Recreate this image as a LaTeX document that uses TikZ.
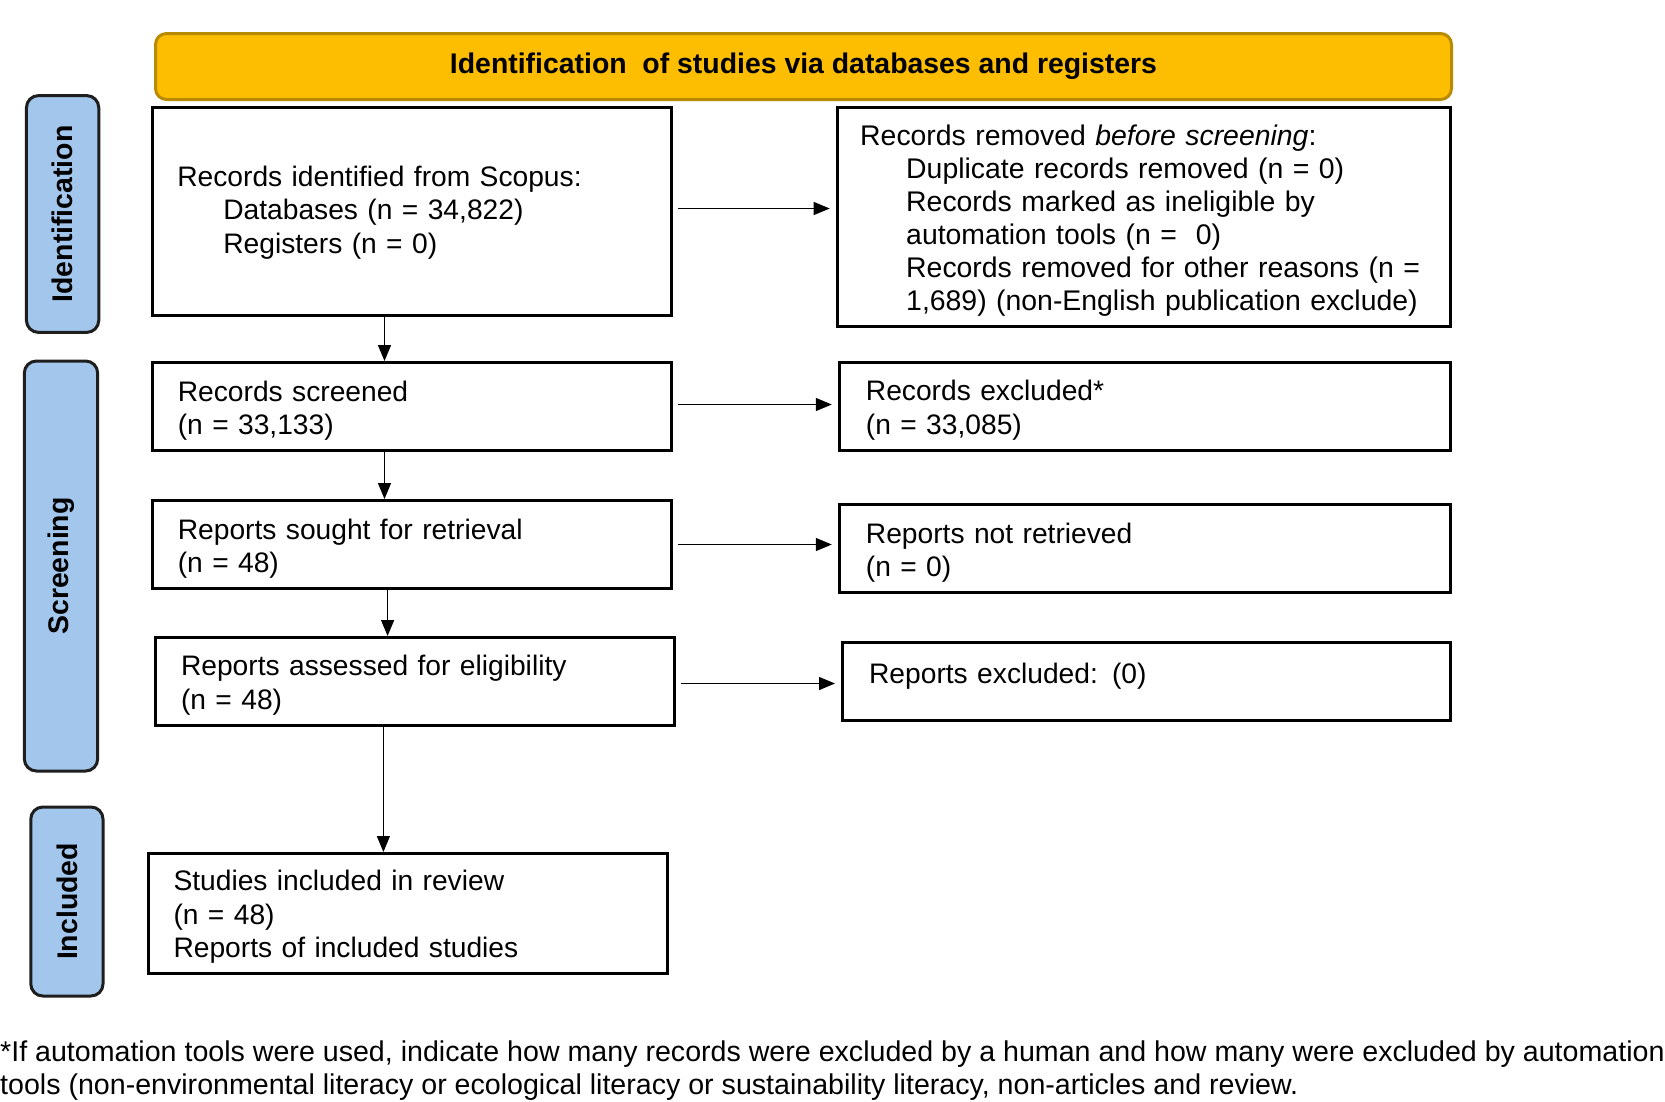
\documentclass[tikz,border=0pt]{standalone}
\usepackage{fontspec}
\setmainfont{Liberation Sans}
\newfontfamily\boxfont{Liberation Sans}[WordSpace=0.6]
\usetikzlibrary{arrows.meta,calc}
\definecolor{hdrfill}{HTML}{FDBD00}
\definecolor{hdrdraw}{HTML}{B88A00}
\definecolor{sidefill}{HTML}{A2C6EC}
\definecolor{sidedraw}{HTML}{1E1E1E}
\newcommand\botgap[1]{\vspace*{#1}}
\begin{document}
\begin{tikzpicture}[x=1pt,y=-1pt,
  box/.style={draw=black,line width=3pt,anchor=north west,inner ysep=0pt,align=left,
    font=\boxfont\fontsize{28.2}{33.5}\selectfont},
  side/.style={draw=sidedraw,fill=sidefill,line width=3pt,rounded corners=12pt,inner sep=0pt,
    rotate=90,font=\bfseries\fontsize{28.4}{30}\selectfont},
  arr/.style={line width=1.3pt,-{Triangle[length=16pt,width=13pt]}},
  harr/.style={arr,shorten <=5pt,shorten >=6pt}
]
\useasboundingbox (0,0) rectangle (1665,1101);
\fill[white] (0,0) rectangle (1665,1101);

% header
\node[draw=hdrdraw,fill=hdrfill,line width=3pt,rounded corners=11pt,anchor=north west,
  minimum width=1296pt,minimum height=66pt,inner sep=0pt,font=\bfseries\fontsize{28.4}{30}\selectfont]
  (hdr) at (154,32) {Identification\ \ of studies via databases and registers};

% side labels
\node[side,minimum width=236.8pt,minimum height=72.3pt] (sid) at (62.6,214) {Identification};
\node[side,minimum width=410pt,minimum height=73.3pt] (sscr) at (61,566) {Screening};
\node[side,minimum width=189pt,minimum height=72.2pt] (sinc) at (66.9,901.5) {Included};

% left column
\node[box,text width=469.2pt,inner xsep=25pt,minimum height=208pt] (b1) at (150.8,106)
  {\mbox{Records identified from Scopus:}\\
   \mbox{\hspace*{46pt}Databases (n = 34,822)}\\
   \mbox{\hspace*{46pt}Registers (n = 0)}\botgap{-2pt}};
\node[box,text width=468.2pt,inner xsep=25.5pt,minimum height=88pt] (b2) at (150.8,361)
  {\mbox{Records screened}\\ \mbox{(n = 33,133)}\botgap{-8pt}};
\node[box,text width=468.2pt,inner xsep=25.5pt,minimum height=88pt] (b3) at (150.8,499)
  {\mbox{Reports sought for retrieval}\\ \mbox{(n = 48)}\botgap{-8pt}};
\node[box,text width=468pt,inner xsep=25.5pt,minimum height=88pt] (b4) at (154,636)
  {\mbox{Reports assessed for\ eligibility}\\ \mbox{(n = 48)}\botgap{-7pt}};
\node[box,text width=468.5pt,inner xsep=25.5pt,minimum height=120pt] (b5) at (146.5,852)
  {\mbox{Studies included in review}\\ \mbox{(n = 48)}\\ \mbox{Reports of included studies}\botgap{-7pt}};

% right column
\node[box,text width=566.8pt,inner xsep=23pt,minimum height=219pt,
  font=\boxfont\fontsize{28.4}{33}\selectfont] (r1) at (835.7,106)
  {\mbox{Records removed \textit{before screening}:}\\
   \mbox{\hspace*{46pt}Duplicate records removed (n = 0)}\\
   \mbox{\hspace*{46pt}Records marked as ineligible by}\\
   \mbox{\hspace*{46pt}automation tools (n = \ 0)}\\
   \mbox{\hspace*{46pt}Records removed for other reasons (n =}\\
   \mbox{\hspace*{46pt}1,689) (non-English publication exclude)}\botgap{-8pt}};
\node[box,text width=557.5pt,inner xsep=26.6pt,minimum height=88pt] (r2) at (837.8,361)
  {\mbox{Records excluded*}\\ \mbox{(n = 33,085)}\botgap{-7pt}};
\node[box,text width=557.5pt,inner xsep=26.6pt,minimum height=88pt] (r3) at (837.8,503)
  {\mbox{Reports not retrieved}\\ \mbox{(n = 0)}\botgap{-8pt}};
\node[box,text width=554.3pt,inner xsep=26.6pt,minimum height=78pt] (r4) at (841,641)
  {\mbox{Reports excluded: (0)}\botgap{11.5pt}};

% vertical arrows
\coordinate (va) at (384.5,0);
\coordinate (vb) at (387.6,0);
\coordinate (vc) at (383.4,0);
\draw[arr] (va |- b1.south) -- (va |- b2.north);
\draw[arr] (va |- b2.south) -- (va |- b3.north);
\draw[arr] (vb |- b3.south) -- (vb |- b4.north);
\draw[arr] (vc |- b4.south) -- (vc |- b5.north);

% horizontal arrows
\draw[harr] ([yshift=3pt]b1.east) -- ([yshift=3pt]b1.east -| r1.west);
\draw[harr] ([yshift=2pt]b2.east) -- ([yshift=2pt]b2.east -| r2.west);
\draw[harr] (b3.east) -- (b3.east -| r3.west);
\draw[harr] ([yshift=-2pt]b4.east) -- ([yshift=-2pt]b4.east -| r4.west);

% footnote
\node[anchor=west,inner sep=0pt,align=left,font=\fontsize{28.6}{33}\selectfont] (foot) at (0,1070.5)
  {*If automation tools were used, indicate how many records were excluded by a human and how many were excluded by automation\\
   tools (non-environmental literacy or ecological literacy or sustainability literacy, non-articles and review.};
\end{tikzpicture}
\end{document}
